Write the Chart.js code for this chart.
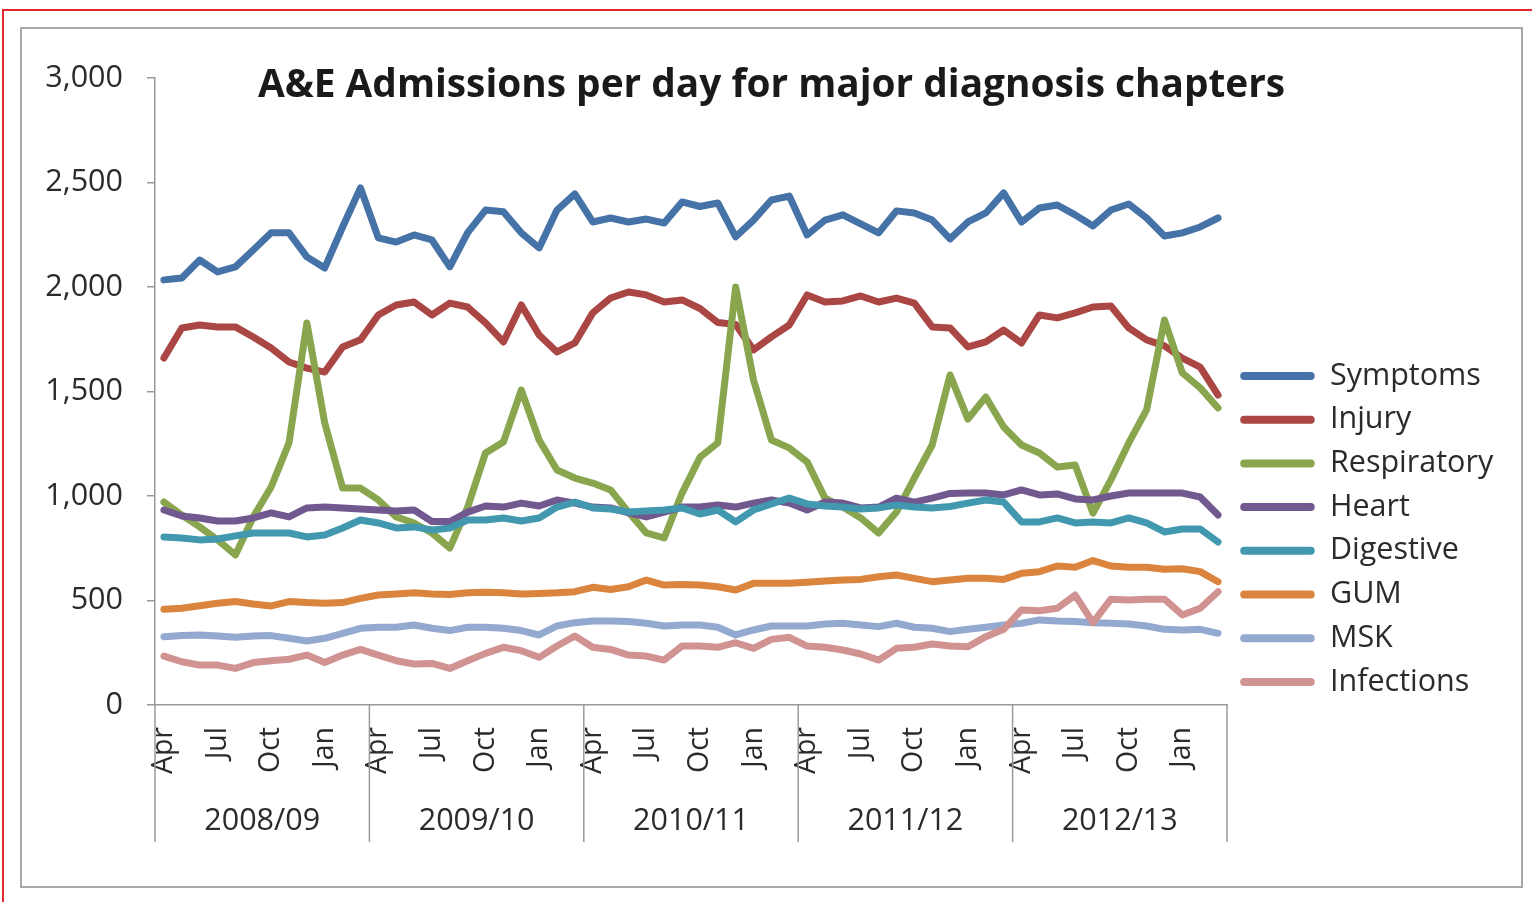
<!DOCTYPE html>
<html>
<head>
<meta charset="utf-8">
<script src="https://cdn.jsdelivr.net/npm/chart.js@4.4.1/dist/chart.umd.min.js"></script>
<style>
  html, body { margin: 0; padding: 0; background: #ffffff; }
  body { width: 1532px; height: 902px; position: relative; overflow: hidden; }
  #frame { position: absolute; left: 2px; top: 9px; right: 0; bottom: 0;
           border-top: 2px solid #e0282e; border-left: 2px solid #e0282e; }
  #box { position: absolute; left: 20px; top: 27px; width: 1499px; height: 857px;
         border: 2px solid #a8a8a8; background: #ffffff; }
  #box canvas { display: block; }
</style>
</head>
<body>
<div id="frame"></div>
<div id="box"><canvas id="c" width="1499" height="857"></canvas></div>
<script>
// ---- data ----
const years = ['2008/09', '2009/10', '2010/11', '2011/12', '2012/13'];
const months = ['Apr', 'May', 'Jun', 'Jul', 'Aug', 'Sep', 'Oct', 'Nov', 'Dec', 'Jan', 'Feb', 'Mar'];
const shownMonths = ['Apr', 'Jul', 'Oct', 'Jan'];
const yTicks = [0, 500, 1000, 1500, 2000, 2500, 3000];

const symptoms = [2034,2043,2129,2072,2096,2177,2259,2259,2144,2091,2287,2474,
                  2235,2215,2249,2225,2096,2260,2368,2360,2259,2187,2368,2445,
                  2311,2330,2311,2325,2306,2407,2385,2402,2240,2320,2416,2435,
                  2249,2320,2345,2302,2259,2364,2354,2320,2230,2311,2354,2450,
                  2311,2378,2392,2345,2292,2368,2397,2330,2244,2259,2287,2330];
const injury = [1660,1804,1818,1809,1809,1761,1708,1641,1612,1593,1713,1747,
                1866,1914,1928,1866,1923,1904,1828,1737,1914,1770,1689,1732,
                1876,1947,1976,1962,1928,1938,1897,1830,1820,1699,1761,1818,
                1962,1928,1933,1957,1928,1947,1923,1809,1804,1713,1737,1794,
                1732,1866,1852,1876,1904,1909,1804,1747,1718,1660,1617,1483];
const respiratory = [971,909,852,790,718,900,1043,1254,1828,1349,1038,1038,
                     981,900,871,823,751,947,1206,1258,1507,1268,1124,1086,
                     1062,1029,923,823,799,1014,1185,1254,2000,1555,1268,1230,
                     1163,990,947,895,823,923,1086,1244,1579,1368,1474,1330,
                     1244,1206,1139,1148,918,1077,1254,1412,1842,1589,1517,1421];
const heart = [933,904,895,880,880,895,919,900,943,947,943,938,
               933,928,933,878,878,923,952,947,966,952,981,966,
               947,943,919,900,923,947,947,957,947,966,981,966,
               933,971,966,943,947,990,971,990,1012,1014,1014,1005,
               1029,1005,1010,986,981,1000,1014,1014,1014,1014,995,909];
const digestive = [804,799,790,794,809,823,823,823,804,813,847,885,
                   871,847,852,837,847,885,885,895,880,895,947,971,
                   943,938,923,928,933,943,914,933,876,933,962,990,
                   962,952,947,938,943,957,947,943,950,966,981,971,
                   876,876,895,871,876,871,895,871,828,842,842,780];
const gum = [458,463,475,487,495,483,474,495,490,487,490,510,
             526,531,537,531,529,537,539,537,531,534,537,542,
             563,553,566,598,574,576,574,566,550,582,582,582,
             587,593,598,601,614,622,606,590,598,606,606,601,
             630,638,665,659,691,665,659,659,649,652,638,590];
const msk = [327,332,335,330,324,330,332,319,306,319,343,367,
             372,372,383,367,356,372,372,367,356,335,378,394,
             402,402,399,391,378,383,383,372,335,359,378,378,
             378,388,391,383,375,391,372,367,351,362,372,383,
             391,407,402,399,394,391,388,378,362,359,362,343];
const infections = [234,207,191,191,175,203,212,219,239,203,239,266,
                    239,212,196,199,175,212,247,276,260,228,282,330,
                    276,266,239,234,215,282,282,276,298,271,314,324,
                    282,276,263,244,215,271,276,292,282,279,327,362,
                    455,451,463,526,394,506,502,506,506,431,463,542];

const seriesNames = ['Symptoms', 'Injury', 'Respiratory', 'Heart', 'Digestive', 'GUM', 'MSK', 'Infections'];
const seriesColors = ['#4572A7', '#AA4643', '#89A54E', '#71588F', '#4198AF', '#DB843D', '#93A9CF', '#D19392'];
const seriesValues = [symptoms, injury, respiratory, heart, digestive, gum, msk, infections];

// category table built from years x months
const categories = [];
years.forEach(y => months.forEach(m => categories.push(m + ' ' + y)));

const FONT = '"Open Sans", Lato, sans-serif';
const TEXT = '#2b2b2b';
const AXIS = '#9a9a9a';

const yearGroups = {
  id: 'yearGroups',
  afterDraw(chart) {
    const xs = chart.scales.x, area = chart.chartArea, ctx = chart.ctx;
    const n = months.length;
    const step = xs.getPixelForValue(1) - xs.getPixelForValue(0);
    const bounds = [];
    for (let k = 0; k <= years.length; k++) {
      bounds.push(k === 0 ? xs.getPixelForValue(0) - step / 2 : xs.getPixelForValue(k * n - 1) + step / 2);
    }
    ctx.save();
    ctx.strokeStyle = AXIS;
    ctx.lineWidth = 1.5;
    bounds.forEach(b => {
      ctx.beginPath();
      ctx.moveTo(b, area.bottom);
      ctx.lineTo(b, area.bottom + 137);
      ctx.stroke();
    });
    ctx.fillStyle = TEXT;
    ctx.font = '30.5px ' + FONT;
    ctx.textAlign = 'center';
    ctx.textBaseline = 'middle';
    years.forEach((y, k) => ctx.fillText(y, (bounds[k] + bounds[k + 1]) / 2, area.bottom + 116));
    ctx.restore();
  }
};

const LEGEND_W = 294;
const legendWidthFix = {
  id: 'legendWidthFix',
  afterInit(chart) {
    const lg = chart.legend;
    if (!lg) return;
    const orig = lg.fit;
    lg.fit = function () { orig.call(this); this.width = LEGEND_W; };
  }
};

const datasets = seriesNames.map((name, i) => ({
  label: name,
  data: seriesValues[i],
  borderColor: seriesColors[i],
  backgroundColor: seriesColors[i],
  borderWidth: 7,
  pointRadius: 0,
  pointHoverRadius: 0,
  tension: 0,
  fill: false,
  borderCapStyle: 'round',
  borderJoinStyle: 'round',
  order: seriesNames.length - i
}));

new Chart(document.getElementById('c'), {
  type: 'line',
  data: { labels: categories, datasets },
  plugins: [yearGroups, legendWidthFix],
  options: {
    responsive: false,
    animation: false,
    locale: 'en-US',
    layout: { padding: { left: 0, right: 0, top: 0, bottom: 0 } },
    plugins: {
      tooltip: { enabled: false },
      title: {
        display: true,
        text: 'A&E Admissions per day for major diagnosis chapters',
        color: '#1a1a1a',
        font: { family: FONT, size: 38.8, weight: 'bold' },
        padding: { top: 33.6, bottom: -31.2 }
      },
      legend: {
        position: 'right',
        align: 'center',
        title: { display: true, text: '', padding: { top: 128.5, bottom: 0 } },
        labels: {
          color: TEXT,
          font: { family: FONT, size: 30.5 },
          boxWidth: 74.5,
          boxHeight: 8,
          padding: 13.2,
          generateLabels(chart) {
            return chart.data.datasets.map((ds, i) => ({
              text: ds.label,
              fillStyle: ds.borderColor,
              strokeStyle: ds.borderColor,
              lineWidth: 0,
              borderRadius: 4,
              hidden: false,
              datasetIndex: i,
              fontColor: TEXT
            }));
          },
          useBorderRadius: true,
          borderRadius: 4
        }
      }
    },
    scales: {
      x: {
        type: 'category',
        offset: true,
        grid: { display: false, drawTicks: false },
        border: { display: true, color: AXIS, width: 1.5 },
        ticks: {
          autoSkip: false,
          minRotation: 90,
          maxRotation: 90,
          padding: 22,
          color: TEXT,
          font: { family: FONT, size: 28.5 },
          callback(value, index) {
            const m = months[index % months.length];
            return shownMonths.includes(m) ? m : '';
          }
        },
        afterFit(scale) { scale.height = 181; }
      },
      y: {
        min: yTicks[0],
        max: yTicks[yTicks.length - 1],
        afterBuildTicks(scale) { scale.ticks = yTicks.map(v => ({ value: v })); },
        grid: { drawOnChartArea: false, drawTicks: true, tickLength: 8, color: AXIS, lineWidth: 1.5 },
        border: { display: true, color: AXIS, width: 1.5 },
        ticks: {
          padding: 24,
          color: TEXT,
          font: { family: FONT, size: 30.5 },
          callback(v) { return v.toLocaleString('en-US'); }
        },
        afterFit(scale) { scale.width = 133; }
      }
    }
  }
});
</script>
</body>
</html>
